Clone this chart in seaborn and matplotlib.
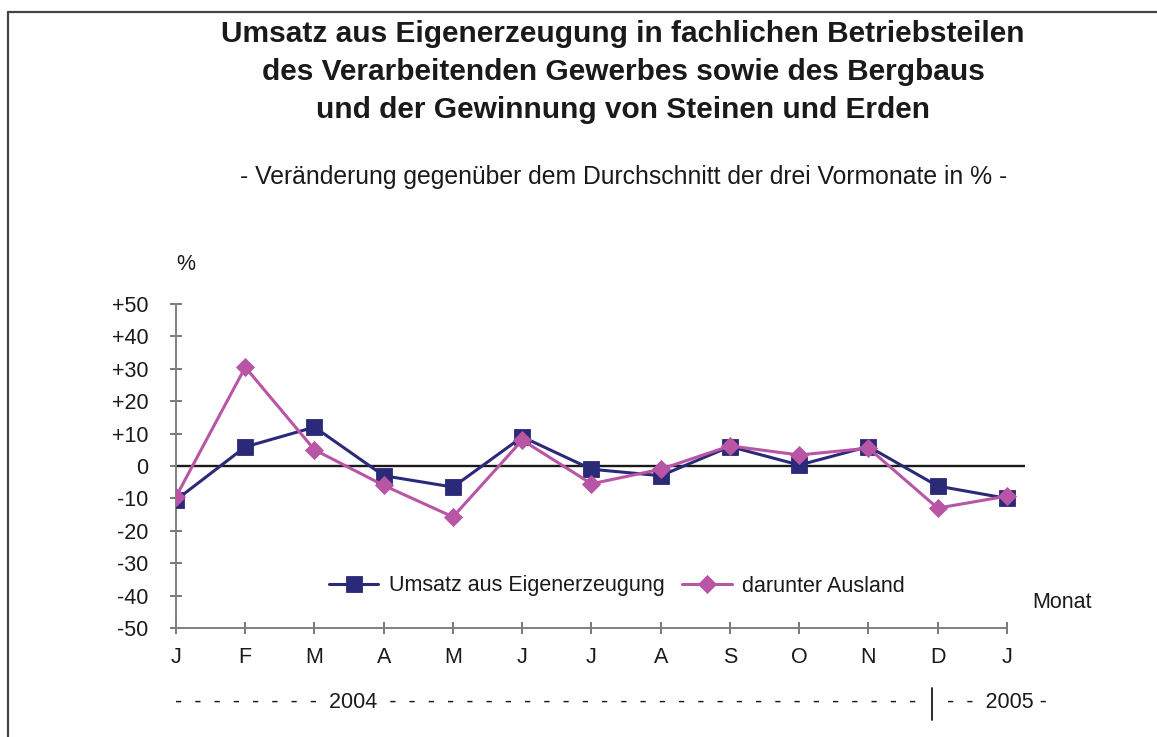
import matplotlib
matplotlib.use("Agg")
import matplotlib.pyplot as plt
from matplotlib.lines import Line2D
import seaborn as sns
import pandas as pd
import numpy as np

months = ["J", "F", "M", "A", "M", "J", "J", "A", "S", "O", "N", "D", "J"]
umsatz = [-10.5, 5.9, 12.0, -3.0, -6.5, 9.0, -1.0, -3.0, 6.0, 0.3, 6.0, -6.2, -10.0]
ausland = [-9.5, 30.5, 5.0, -6.0, -15.7, 8.0, -5.5, -1.0, 6.2, 3.4, 5.5, -13.0, -9.3]
ytick_values = [50, 40, 30, 20, 10, 0, -10, -20, -30, -40, -50]
ytick_labels = ["+50", "+40", "+30", "+20", "+10", "0", "-10", "-20", "-30", "-40", "-50"]
series_names = ["Umsatz aus Eigenerzeugung", "darunter Ausland"]
title_lines = ["Umsatz aus Eigenerzeugung in fachlichen Betriebsteilen",
               "des Verarbeitenden Gewerbes sowie des Bergbaus",
               "und der Gewinnung von Steinen und Erden"]
subtitle = "- Veränderung gegenüber dem Durchschnitt der drei Vormonate in % -"

sns.set_theme(style="white")
plt.rcParams["font.family"] = ["Liberation Sans", "DejaVu Sans"]

navy = "#2b2a78"
magenta = "#b955a5"
FS = 15.5

W, H = 1157, 737
fig = plt.figure(figsize=(W / 100, H / 100), dpi=100)
fig.patch.set_facecolor("white")

left_px, right_px, top_px, bottom_px = 176, 1025, 304, 628
ax = fig.add_axes([left_px / W, 1 - bottom_px / H, (right_px - left_px) / W, (bottom_px - top_px) / H])
ax.set_facecolor("white")

x = np.arange(len(months))
df = pd.DataFrame({"x": np.concatenate([x, x]),
                   "value": umsatz + ausland,
                   "series": [series_names[0]] * len(x) + [series_names[1]] * len(x)})

ax.axhline(0, color="#1a1a1a", lw=1.7, zorder=1)

sns.lineplot(data=df[df.series == series_names[0]], x="x", y="value", ax=ax,
             color=navy, lw=2.2, marker="s", markersize=11.5, markeredgewidth=0.6,
             markeredgecolor=navy, label=series_names[0], zorder=3)
sns.lineplot(data=df[df.series == series_names[1]], x="x", y="value", ax=ax,
             color=magenta, lw=2.2, marker="D", markersize=9, markeredgewidth=0.6,
             markeredgecolor=magenta, label=series_names[1], zorder=4)

ax.set_xlim(0, 12.26)
ax.set_ylim(-50, 50)
ax.set_xticks(x)
ax.set_xticklabels(months)
ax.set_yticks(ytick_values)
ax.set_yticklabels(ytick_labels)
ax.set_xlabel("")
ax.set_ylabel("")

for s in ["top", "right"]:
    ax.spines[s].set_visible(False)
for s in ["left", "bottom"]:
    ax.spines[s].set_color("#808080")
    ax.spines[s].set_linewidth(1.4)
ax.spines["bottom"].set_bounds(0, 12)

ax.tick_params(axis="y", direction="inout", length=9, width=1.1, color="#555555",
               labelsize=FS, labelcolor="#1a1a1a", pad=15.5, left=True)
ax.tick_params(axis="x", direction="inout", length=8.6, width=1.1, color="#555555",
               labelsize=FS, labelcolor="#1a1a1a", pad=9.5, bottom=True)

leg = ax.legend(loc="center", bbox_to_anchor=(617 / W, 1 - 586 / H), bbox_transform=fig.transFigure,
                ncol=2, frameon=False, fontsize=FS, handlelength=2.3, handletextpad=0.5,
                columnspacing=0.8)
for t in leg.get_texts():
    t.set_color("#1a1a1a")

# titles
for i, line in enumerate(title_lines):
    fig.text(623 / W, 1 - (34 + 38 * i) / H, line, ha="center", va="center",
             fontsize=21.5, fontweight="bold", color="#1a1a1a")
fig.text(624 / W, 1 - 177 / H, subtitle, ha="center", va="center", fontsize=17.8, color="#1a1a1a")

fig.text(186 / W, 1 - 265 / H, "%", ha="center", va="center", fontsize=FS, color="#1a1a1a")
fig.text(1062 / W, 1 - 603 / H, "Monat", ha="center", va="center", fontsize=FS, color="#1a1a1a")

# year row
fig.text(175 / W, 1 - 703 / H, "-  " * 8 + "2004" + "  -" * 28, ha="left", va="center",
         fontsize=FS, color="#1a1a1a")
fig.text(947 / W, 1 - 703 / H, "-  -  2005 -", ha="left", va="center", fontsize=FS, color="#1a1a1a")
fig.add_artist(Line2D([932 / W, 932 / W], [1 - 688 / H, 1 - 720 / H], color="#1a1a1a", lw=1.3,
                      transform=fig.transFigure))

# frame
fig.add_artist(Line2D([8 / W, 8 / W], [1 - 12 / H, 0], color="#444444", lw=1.6, transform=fig.transFigure))
fig.add_artist(Line2D([8 / W, 1], [1 - 12 / H, 1 - 12 / H], color="#444444", lw=1.6, transform=fig.transFigure))

fig.savefig("out.png", dpi=100)
